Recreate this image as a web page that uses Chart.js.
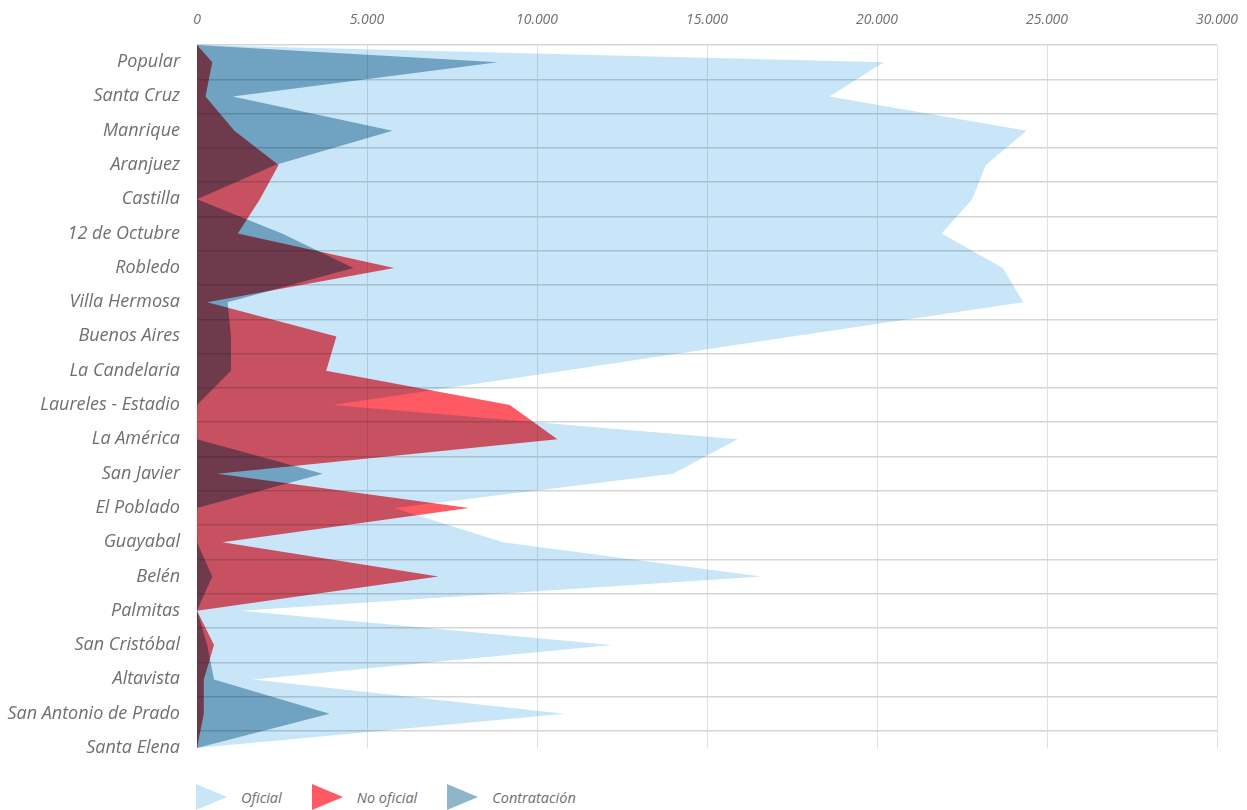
<!DOCTYPE html>
<html>
<head>
<meta charset="utf-8">
<script src="https://cdn.jsdelivr.net/npm/chart.js@4.4.0/dist/chart.umd.min.js"></script>
<style>
  body { margin: 0; background: #fff; }
  .wrap { position: relative; width: 1247px; height: 810px; overflow: hidden; }
  #legend { position: absolute; left: 196px; top: 784px; display: flex; align-items: center; }
  .legend-item { display: flex; align-items: center; margin-right: 30px; }
  .legend-swatch { width: 0; height: 0; border-top: 13px solid transparent; border-bottom: 13px solid transparent; margin-right: 14px; }
  .legend-text { font-family: "Open Sans", sans-serif; font-style: italic; font-size: 14.5px; color: #6f6f6f; }
</style>
</head>
<body>
<div class="wrap">
  <canvas id="myChart" width="1247" height="770"></canvas>
  <div id="legend"></div>
</div>
<script>
const categories = [
  "Popular", "Santa Cruz", "Manrique", "Aranjuez", "Castilla", "12 de Octubre",
  "Robledo", "Villa Hermosa", "Buenos Aires", "La Candelaria", "Laureles - Estadio",
  "La América", "San Javier", "El Poblado", "Guayabal", "Belén", "Palmitas",
  "San Cristóbal", "Altavista", "San Antonio de Prado", "Santa Elena",
];
const oficial = [20200, 18600, 24400, 23200, 22800, 21900, 23700, 24300, 17500, 10800, 4000,
  15900, 14000, 5800, 9000, 16600, 1300, 12200, 1650, 10800, 0];
const noOficial = [450, 250, 1100, 2400, 1850, 1200, 5800, 300, 4100, 3800, 9200,
  10600, 600, 8000, 750, 7100, 0, 500, 200, 200, 0];
const contratacion = [8850, 1050, 5750, 2300, 0, 2500, 4600, 900, 1000, 1000, 0,
  0, 3700, 0, 0, 450, 0, 300, 500, 3900, 0];
const xTicks = [0, 5000, 10000, 15000, 20000, 25000, 30000];

const textColor = "#6f6f6f";

// every shape starts at 0 on the top edge of the plot, then one point per comuna
function toPoints(values) {
  return [{ x: 0, y: -0.5 }].concat(values.map((v, i) => ({ x: v, y: i })));
}

function formatThousands(v) {
  return String(v).replace(/\B(?=(\d{3})+(?!\d))/g, ".");
}

const series = [
  { label: "Oficial", values: oficial, color: "#c8e6f8" },
  { label: "No oficial", values: noOficial, color: "#ff5a64" },
  { label: "Contratación", values: contratacion, color: "#8fb5c8" },
];

// overlapping areas darken each other like in the original graphic
const multiplyPlugin = {
  id: "multiply",
  beforeDatasetsDraw(chart) {
    chart.ctx.save();
    chart.ctx.globalCompositeOperation = "multiply";
  },
  afterDatasetsDraw(chart) {
    chart.ctx.restore();
  },
};

const htmlLegend = {
  id: "htmlLegend",
  afterUpdate(chart) {
    const box = document.getElementById("legend");
    box.innerHTML = "";
    chart.data.datasets.forEach((ds) => {
      const item = document.createElement("div");
      item.className = "legend-item";
      const swatch = document.createElement("span");
      swatch.className = "legend-swatch";
      swatch.style.borderLeft = "31px solid " + ds.backgroundColor;
      const text = document.createElement("span");
      text.className = "legend-text";
      text.textContent = ds.label;
      item.appendChild(swatch);
      item.appendChild(text);
      box.appendChild(item);
    });
  },
};

const config = {
  type: "line",
  data: {
    datasets: series.map((s) => ({
      label: s.label,
      data: toPoints(s.values),
      backgroundColor: s.color,
      borderColor: "transparent",
      borderWidth: 0,
      pointRadius: 0,
      tension: 0,
      fill: "origin",
    })),
  },
  options: {
    responsive: false,
    animation: false,
    indexAxis: "y",
    layout: { padding: { left: 0, right: 30, top: 0, bottom: 22 } },
    plugins: {
      legend: { display: false },
      tooltip: { enabled: false },
    },
    scales: {
      x: {
        type: "linear",
        position: "top",
        min: 0,
        max: 30000,
        afterBuildTicks: (scale) => {
          scale.ticks = xTicks.map((v) => ({ value: v }));
        },
        afterFit: (scale) => {
          scale.height = 45;
          scale.paddingLeft = 0;
          scale.paddingRight = 0;
        },
        border: { display: false },
        grid: { color: "#e0e0e0", lineWidth: 1, drawTicks: false },
        ticks: {
          padding: 17,
          color: textColor,
          font: { family: "Open Sans", style: "italic", size: 14 },
          callback: (v) => formatThousands(v),
        },
      },
      y: {
        type: "linear",
        reverse: true,
        min: -0.5,
        max: categories.length - 1,
        // grid lines sit between comunas, labels are pushed down to the middle of each band
        afterBuildTicks: (scale) => {
          scale.ticks = categories.map((c, i) => ({ value: i - 0.5 }));
        },
        afterFit: (scale) => {
          scale.width = 197;
          scale.paddingTop = 0;
          scale.paddingBottom = 0;
        },
        border: { display: false },
        grid: { color: "#d5d5d5", lineWidth: 1.5, drawTicks: false },
        ticks: {
          autoSkip: false,
          padding: 17,
          labelOffset: 17,
          color: textColor,
          font: { family: "Open Sans", style: "italic", size: 18 },
          callback: (v, i) => categories[i],
        },
      },
    },
  },
  plugins: [multiplyPlugin, htmlLegend],
};

var ctx = document.getElementById("myChart").getContext("2d");
var myChart = new Chart(ctx, config);
</script>
</body>
</html>
